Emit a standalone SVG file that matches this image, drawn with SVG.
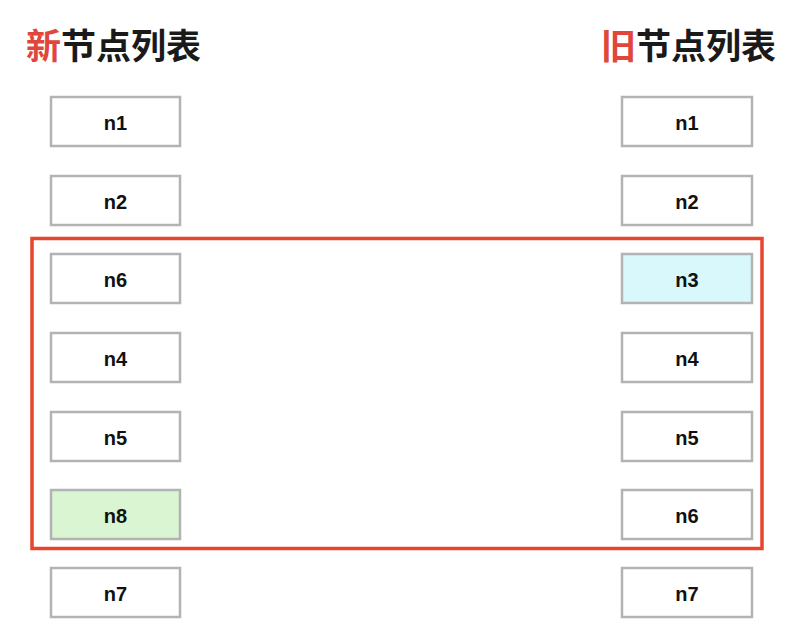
<svg xmlns="http://www.w3.org/2000/svg" width="804" height="638" viewBox="0 0 804 638">
<style>
.bg{fill:#ffffff}
.box{fill:#ffffff;stroke:#b3b3b3;stroke-width:2.5}
.lbl{font-family:"Liberation Sans",Arial,sans-serif;font-weight:bold;font-size:20px;fill:#111111;text-anchor:middle;dominant-baseline:central}
.title{font-family:"Noto Sans CJK SC","Noto Sans",sans-serif;font-weight:bold;font-size:35px;fill:#1a1a1a}
.red{fill:#e0463b}
.frame{fill:none;stroke:#e8452e;stroke-width:3.5}
</style>
<rect class="bg" x="0" y="0" width="804" height="638"/>
<text class="title" x="26" y="59"><tspan class="red">新</tspan>节点列表</text>
<text class="title" x="601" y="59"><tspan class="red">旧</tspan>节点列表</text>
<g id="new-n1"><rect class="box" x="51" y="97" width="129" height="49"/><text class="lbl" x="115.5" y="123">n1</text></g>
<g id="new-n2"><rect class="box" x="51" y="176" width="129" height="49"/><text class="lbl" x="115.5" y="202">n2</text></g>
<g id="new-n6"><rect class="box" x="51" y="254" width="129" height="49"/><text class="lbl" x="115.5" y="280">n6</text></g>
<g id="new-n4"><rect class="box" x="51" y="333" width="129" height="49"/><text class="lbl" x="115.5" y="359">n4</text></g>
<g id="new-n5"><rect class="box" x="51" y="412" width="129" height="49"/><text class="lbl" x="115.5" y="438">n5</text></g>
<g id="new-n8"><rect class="box" x="51" y="490" width="129" height="49" style="fill:#d9f5d2"/><text class="lbl" x="115.5" y="516">n8</text></g>
<g id="new-n7"><rect class="box" x="51" y="568" width="129" height="49"/><text class="lbl" x="115.5" y="594">n7</text></g>
<g id="old-n1"><rect class="box" x="622" y="97" width="130" height="49"/><text class="lbl" x="687" y="123">n1</text></g>
<g id="old-n2"><rect class="box" x="622" y="176" width="130" height="49"/><text class="lbl" x="687" y="202">n2</text></g>
<g id="old-n3"><rect class="box" x="622" y="254" width="130" height="49" style="fill:#d9f8fc"/><text class="lbl" x="687" y="280">n3</text></g>
<g id="old-n4"><rect class="box" x="622" y="333" width="130" height="49"/><text class="lbl" x="687" y="359">n4</text></g>
<g id="old-n5"><rect class="box" x="622" y="412" width="130" height="49"/><text class="lbl" x="687" y="438">n5</text></g>
<g id="old-n6"><rect class="box" x="622" y="490" width="130" height="49"/><text class="lbl" x="687" y="516">n6</text></g>
<g id="old-n7"><rect class="box" x="622" y="568" width="130" height="49"/><text class="lbl" x="687" y="594">n7</text></g>
<g id="connectors"><rect class="frame" x="32" y="238.5" width="730" height="310"/></g>
</svg>
